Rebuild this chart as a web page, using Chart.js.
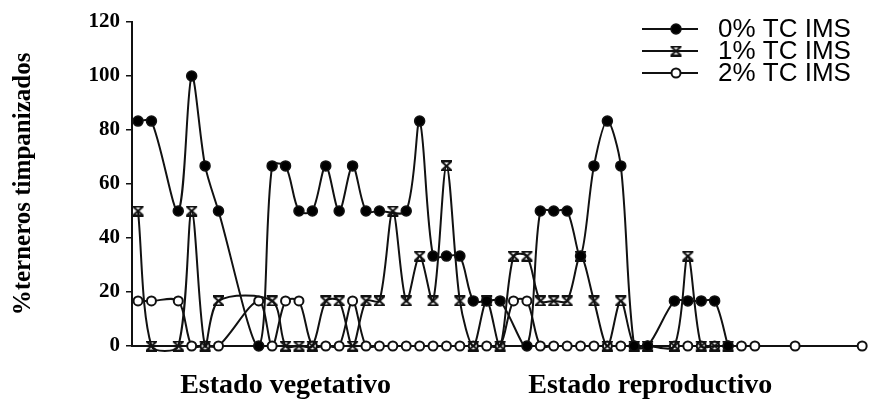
<!DOCTYPE html>
<html><head><meta charset="utf-8">
<script src="https://cdn.jsdelivr.net/npm/chart.js@4.4.0/dist/chart.umd.min.js"></script>
<style>html,body{margin:0;padding:0;background:#fff;overflow:hidden;}</style>
</head><body>
<canvas id="c" width="871" height="403"></canvas>
<script>
// ---- data (x = sample number along the season, y = % terneros timpanizados) ----
const seriesLabels = ['0% TC IMS', '1% TC IMS', '2% TC IMS'];
const yAxisTitle = '%terneros timpanizados';
const stageLabels = ['Estado vegetativo', 'Estado reproductivo'];
const stagePositions = [11.0, 38.2];
const yTickValues = [0, 20, 40, 60, 80, 100, 120];

const samples0 = [0,1,3,4,5,6,9,10,11,12,13,14,15,16,17,18,20,21,22,23,24,25,26,27,29,30,31,32,33,34,35,36,37,38,40,41,42,43,44];
const values0  = [83.3,83.3,50,100,66.7,50,0,66.7,66.7,50,50,66.7,50,66.7,50,50,50,83.3,33.3,33.3,33.3,16.7,16.7,16.7,0,50,50,50,33.3,66.7,83.3,66.7,0,0,16.7,16.7,16.7,16.7,0];

const samples1 = [0,1,3,4,5,6,10,11,12,13,14,15,16,17,18,19,20,21,22,23,24,25,26,27,28,29,30,31,32,33,34,35,36,37,38,40,41,42,43,44];
const values1  = [50,0,0,50,0,16.7,16.7,0,0,0,16.7,16.7,0,16.7,16.7,50,16.7,33.3,16.7,66.7,16.7,0,16.7,0,33.3,33.3,16.7,16.7,16.7,33.3,16.7,0,16.7,0,0,0,33.3,0,0,0];

const samples2 = [0,1,3,4,5,6,9,10,11,12,13,14,15,16,17,18,19,20,21,22,23,24,25,26,27,28,29,30,31,32,33,34,35,36,37,38,40,41,42,43,44,45,46,49,54];
const values2  = [16.7,16.7,16.7,0,0,0,16.7,0,16.7,16.7,0,0,0,16.7,0,0,0,0,0,0,0,0,0,0,0,16.7,16.7,0,0,0,0,0,0,0,0,0,0,0,0,0,0,0,0,0,0];

const toPoints = (xs, ys) => xs.map((x, i) => ({x: x, y: ys[i]}));

const serif = "'Liberation Serif', 'Times New Roman', serif";
const sans = "'Liberation Sans', Arial, sans-serif";

// hourglass-like cross marker used by the 1% series
function makeCrossMarker() {
  const c = document.createElement('canvas');
  c.width = 13; c.height = 11;
  const g = c.getContext('2d');
  g.strokeStyle = '#111'; g.lineWidth = 2; g.lineCap = 'butt';
  g.beginPath();
  g.moveTo(2, 1.5); g.lineTo(11, 9.5);
  g.moveTo(11, 1.5); g.lineTo(2, 9.5);
  g.moveTo(1, 1); g.lineTo(12, 1);
  g.moveTo(1, 10); g.lineTo(12, 10);
  g.stroke();
  return c;
}
const crossMarker = makeCrossMarker();

const common = {
  borderColor: '#111', borderWidth: 2, tension: 0.3, clip: false,
  pointBorderColor: '#111', pointBorderWidth: 1.5
};

const datasets = [
  Object.assign({}, common, { label: seriesLabels[0], data: toPoints(samples0, values0),
    pointStyle: 'circle', pointRadius: 5, pointBackgroundColor: '#000' }),
  Object.assign({}, common, { label: seriesLabels[1], data: toPoints(samples1, values1),
    pointStyle: crossMarker, pointRadius: 5.5, pointBorderWidth: 2, pointBackgroundColor: '#000' }),
  Object.assign({}, common, { label: seriesLabels[2], data: toPoints(samples2, values2),
    pointStyle: 'circle', pointRadius: 4.5, pointBorderWidth: 2, pointBackgroundColor: '#fff' })
];

const legendPlugin = {
  id: 'cornerLegend',
  afterDraw(chart) {
    const ctx = chart.ctx;
    const rowY = [29, 51, 73];
    ctx.save();
    chart.data.datasets.forEach((ds, i) => {
      ctx.strokeStyle = '#111';
      ctx.lineWidth = 2;
      ctx.beginPath(); ctx.moveTo(642, rowY[i]); ctx.lineTo(698, rowY[i]); ctx.stroke();
      ctx.fillStyle = ds.pointBackgroundColor;
      ctx.strokeStyle = ds.pointBorderColor;
      ctx.lineWidth = ds.pointBorderWidth;
      Chart.helpers.drawPoint(ctx, {pointStyle: ds.pointStyle, radius: ds.pointRadius, rotation: 0, borderWidth: ds.pointBorderWidth}, 676, rowY[i]);
      ctx.fillStyle = '#000';
      ctx.font = '26px ' + sans;
      ctx.textBaseline = 'middle';
      ctx.textAlign = 'left';
      ctx.fillText(ds.label, 718, rowY[i] + 1);
    });
    ctx.restore();
  }
};

new Chart(document.getElementById('c'), {
  type: 'line',
  data: { datasets: datasets },
  plugins: [legendPlugin],
  options: {
    responsive: false,
    animation: false,
    elements: { line: { capBezierPoints: false } },
    layout: { padding: { top: 22, right: 3, left: 0, bottom: 0 } },
    plugins: { legend: { display: false }, tooltip: { enabled: false } },
    scales: {
      x: {
        type: 'linear', min: -0.45, max: 54.1,
        afterBuildTicks: s => { s.ticks = stagePositions.map(v => ({value: v})); },
        ticks: { autoSkip: false, maxRotation: 0, color: '#000', padding: 15,
          font: { family: serif, weight: 'bold', size: 28 },
          callback: (v, i) => stageLabels[i] },
        grid: { display: false },
        border: { display: true, color: '#111', width: 2 },
        afterFit: s => { s.height = 57; }
      },
      y: {
        min: 0, max: 120,
        afterBuildTicks: s => { s.ticks = yTickValues.map(v => ({value: v})); },
        ticks: { color: '#000', padding: 6, font: { family: serif, weight: 'bold', size: 21 } },
        grid: { display: true, drawOnChartArea: false, drawTicks: true, tickLength: 6, color: '#111', lineWidth: 1.5 },
        border: { display: true, color: '#111', width: 2 },
        title: { display: true, text: yAxisTitle, color: '#000', padding: { top: 9, bottom: 0 },
          font: { family: serif, weight: 'bold', size: 25 } },
        afterFit: s => { s.width = 132; }
      }
    }
  }
});
</script>
</body></html>
